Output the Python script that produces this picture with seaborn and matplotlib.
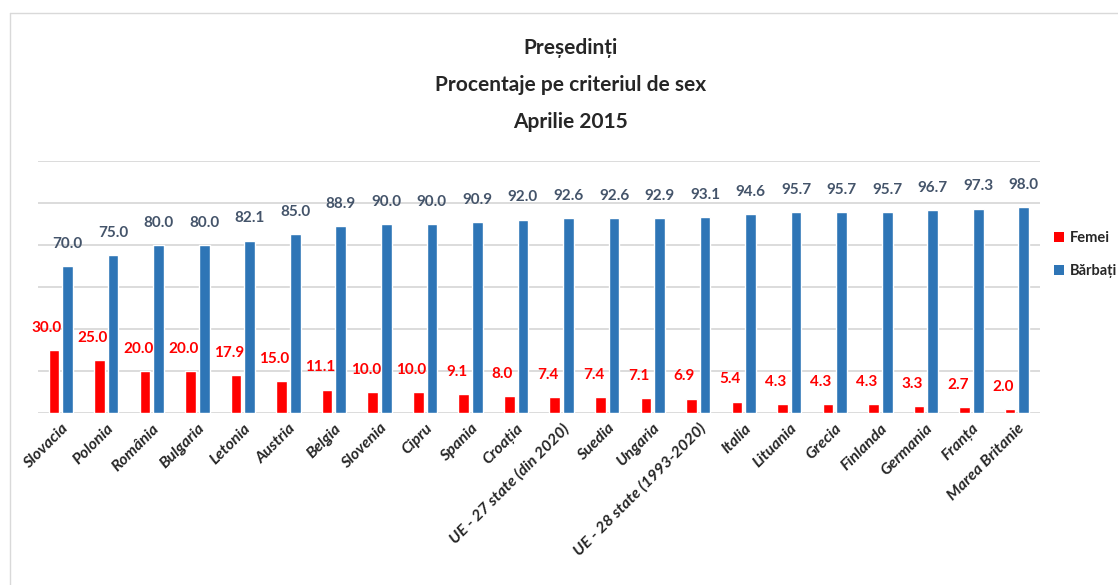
import pandas as pd
import matplotlib.pyplot as plt
import seaborn as sns
from matplotlib.lines import Line2D
from matplotlib.patches import Patch

tari = ["Slovacia", "Polonia", "România", "Bulgaria", "Letonia", "Austria",
        "Belgia", "Slovenia", "Cipru", "Spania", "Croația",
        "UE - 27 state (din 2020)", "Suedia", "Ungaria",
        "UE - 28 state (1993-2020)", "Italia", "Lituania", "Grecia",
        "Finlanda", "Germania", "Franța", "Marea Britanie"]
femei = [30.0, 25.0, 20.0, 20.0, 17.9, 15.0, 11.1, 10.0, 10.0, 9.1, 8.0,
         7.4, 7.4, 7.1, 6.9, 5.4, 4.3, 4.3, 4.3, 3.3, 2.7, 2.0]
barbati = [70.0, 75.0, 80.0, 80.0, 82.1, 85.0, 88.9, 90.0, 90.0, 90.9, 92.0,
           92.6, 92.6, 92.9, 93.1, 94.6, 95.7, 95.7, 95.7, 96.7, 97.3, 98.0]
serii = ["Femei", "Bărbați"]

df = pd.DataFrame({"Tara": tari * 2,
                   "Sex": [serii[0]] * len(tari) + [serii[1]] * len(tari),
                   "Procent": femei + barbati})

sns.set_style("white")
plt.rcParams["font.family"] = ["Lato", "DejaVu Sans"]

culori = {"Femei": "#FF0000", "Bărbați": "#2E75B6"}

fig = plt.figure(figsize=(11.18, 5.85), dpi=100)
ax = fig.add_axes([0.034, 0.294, 0.896, 0.431])

sns.barplot(data=df, x="Tara", y="Procent", hue="Sex", palette=culori,
            saturation=1, width=0.6, gap=0.22, legend=False, ax=ax)

ax.set_ylim(0, 120)
ax.set_xlim(-0.5, len(tari) - 0.5)
ax.set_yticks(range(0, 121, 20))
ax.set_yticklabels([])
ax.tick_params(axis="y", length=0)
ax.tick_params(axis="x", length=0, pad=6)
ax.grid(axis="y", color="#D9D9D9", linewidth=1.3)
ax.set_axisbelow(True)
for s in ax.spines.values():
    s.set_visible(False)
ax.set_xlabel("")
ax.set_ylabel("")
ax.set_xticks(range(len(tari)))
ax.set_xticklabels(tari, rotation=45, ha="right", rotation_mode="anchor",
                   fontsize=11.5, fontweight="bold", fontstyle="italic")

# etichete valori
for cont, col, dx in zip(ax.containers, ["#FF0000", "#44546A"], [-5, 0]):
    labels = [f"{v:.1f}" for v in cont.datavalues]
    txts = ax.bar_label(cont, labels=labels, padding=11, color=col,
                        fontsize=11, fontweight="bold")
    for t in txts:
        t.xyann = (t.xyann[0] + dx, t.xyann[1])

fig.text(0.51, 0.935, "Președinți\nProcentaje pe criteriul de sex\nAprilie 2015",
         ha="center", va="top", fontsize=15, fontweight="bold",
         linespacing=2.07)

handles = [Patch(facecolor=culori[s], edgecolor="none") for s in serii]
fig.legend(handles, serii, loc="upper left", bbox_to_anchor=(0.943, 0.605),
           frameon=False, borderaxespad=0, borderpad=0,
           handlelength=0.7, handleheight=0.7,
           handletextpad=0.35, labelspacing=1.3,
           prop={"weight": "bold", "size": 10.5})

fig.add_artist(Line2D([10 / 1118, 10 / 1118], [0, 1 - 13 / 585],
                      transform=fig.transFigure, color="#D9D9D9", lw=1))
fig.add_artist(Line2D([10 / 1118, 1], [1 - 13 / 585, 1 - 13 / 585],
                      transform=fig.transFigure, color="#D9D9D9", lw=1))

fig.savefig("out.png", dpi=100)
